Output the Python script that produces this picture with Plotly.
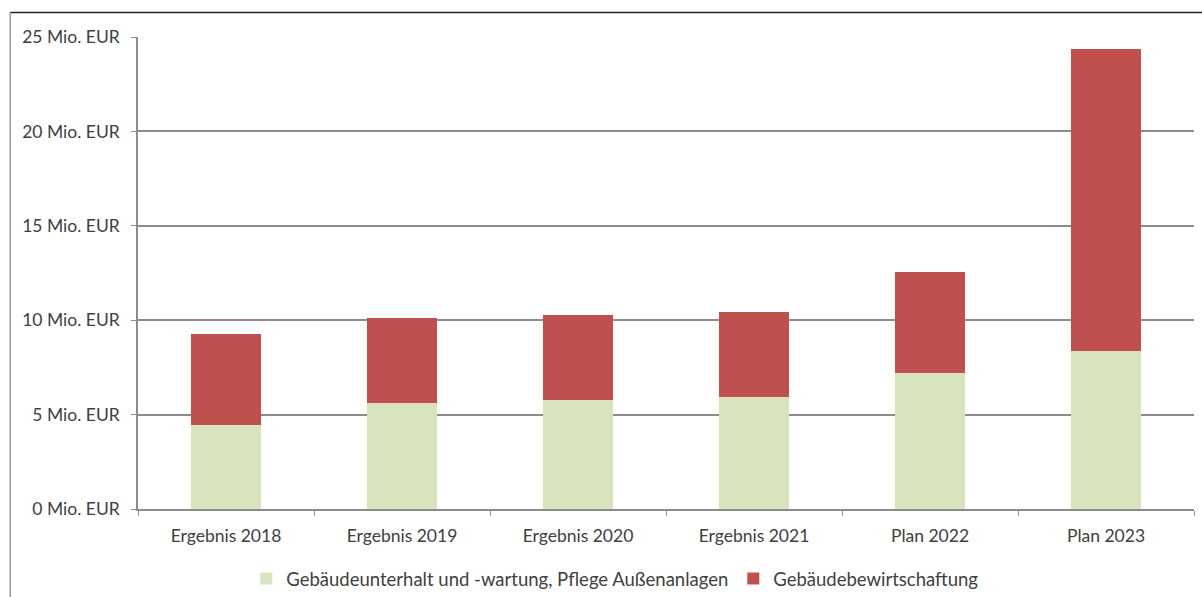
import plotly.graph_objects as go

categories = ["Ergebnis 2018", "Ergebnis 2019", "Ergebnis 2020",
              "Ergebnis 2021", "Plan 2022", "Plan 2023"]
unterhalt = [4.45, 5.60, 5.77, 5.95, 7.18, 8.36]
bewirtschaftung_total = [9.26, 10.10, 10.29, 10.41, 12.56, 24.39]
bewirtschaftung = [round(t - u, 2) for t, u in zip(bewirtschaftung_total, unterhalt)]

y_ticks = [0, 5, 10, 15, 20, 25]
y_tick_labels = [f"{v} Mio. EUR" for v in y_ticks]

FONT = "Lato"
TXT = "#404040"

fig = go.Figure()
fig.add_bar(x=categories, y=unterhalt,
            name="Gebäudeunterhalt und -wartung, Pflege Außenanlagen",
            marker=dict(color="#D7E4BD", line=dict(width=0)))
fig.add_bar(x=categories, y=bewirtschaftung,
            name="Gebäudebewirtschaftung",
            marker=dict(color="#C0504D", line=dict(width=0)))

fig.update_layout(
    width=1202, height=597,
    barmode="stack", bargap=0.6,
    paper_bgcolor="white", plot_bgcolor="white",
    margin=dict(l=138, r=8, t=37, b=88, autoexpand=False),
    font=dict(family=FONT, size=17.5, color=TXT),
    showlegend=True,
    legend=dict(orientation="h", x=0.452, xanchor="center",
                yref="container", y=0.062, yanchor="top",
                font=dict(family=FONT, size=18.5, color=TXT),
                itemwidth=30, tracegroupgap=0, traceorder="normal"),
    shapes=[
        dict(type="line", xref="paper", yref="paper", x0=-0.121, x1=1.02, y0=1.052, y1=1.052,
             line=dict(color="#222222", width=1.5)),
        dict(type="line", xref="paper", yref="paper", x0=-0.121, x1=-0.121, y0=1.052, y1=-0.2,
             line=dict(color="#999999", width=1.5)),
    ],
)

fig.update_xaxes(
    type="category", automargin=False,
    showline=True, linecolor="#8c8c8c", linewidth=1.5,
    ticks="outside", ticklen=5, tickcolor="#8c8c8c", tickson="boundaries",
    showgrid=False,
    tickfont=dict(family=FONT, size=17.5, color=TXT),
    ticklabelstandoff=10,
)
fig.update_yaxes(
    range=[0, 25], tickvals=y_ticks, ticktext=y_tick_labels, automargin=False,
    showline=True, linecolor="#8c8c8c", linewidth=1.5,
    ticks="outside", ticklen=5, tickcolor="#8c8c8c",
    showgrid=True, gridcolor="#8c8c8c", gridwidth=1.5,
    zeroline=False,
    tickfont=dict(family=FONT, size=17.5, color=TXT),
    ticklabelstandoff=8,
)

fig.write_html("out.html")
